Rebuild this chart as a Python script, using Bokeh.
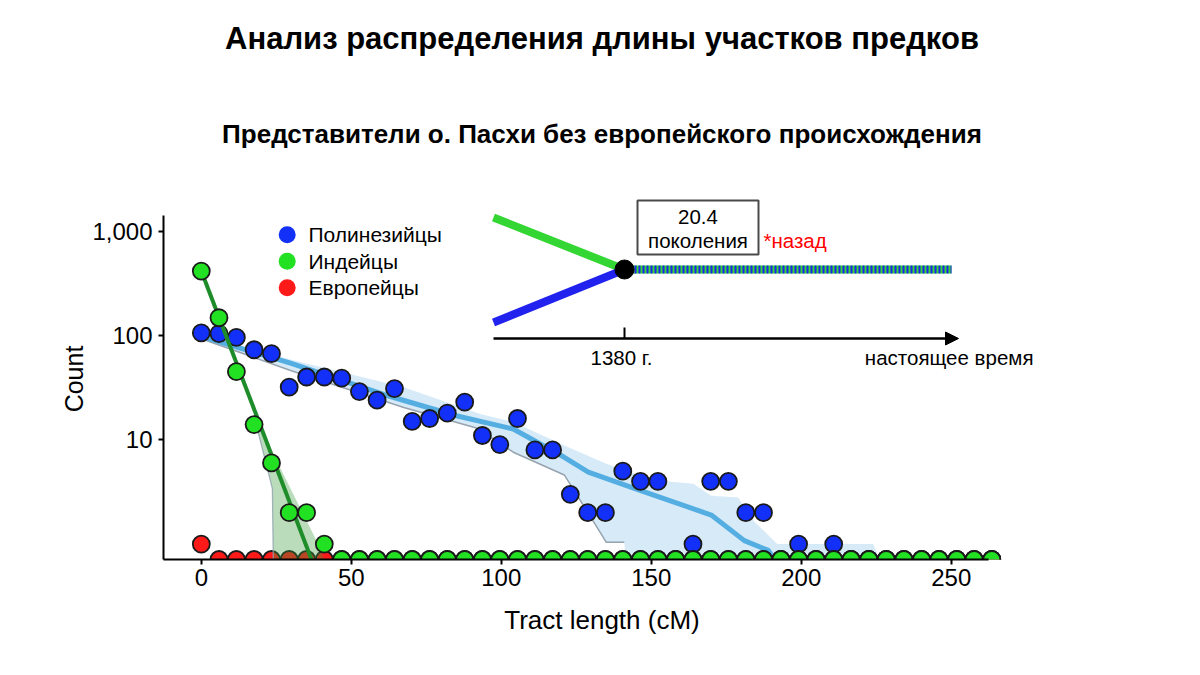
from bokeh.plotting import figure
from bokeh.models import (Range1d, FixedTicker, NumeralTickFormatter, Label, Title,
                          BoxAnnotation, Arrow, NormalHead, LinearScale)
from bokeh.embed import file_html
from bokeh.resources import INLINE

# ---------------- data ----------------
tract_length = [0.0, 5.9, 11.7, 17.6, 23.4, 29.3, 35.1, 41.0, 46.8, 52.7,
                58.6, 64.4, 70.3, 76.1, 82.0, 87.8, 93.7, 99.5, 105.4, 111.2,
                117.1, 123.0, 128.8, 134.7, 140.5, 146.4, 152.2, 158.1, 163.9, 169.8,
                175.7, 181.5, 187.4, 193.2, 199.1, 204.9, 210.8, 216.6, 222.5, 228.3,
                234.2, 240.1, 245.9, 251.8, 257.6, 263.5]
polynesian = [106, 104, 96, 73, 67, 32, 40, 40, 39, 29,
              24, 31, 15, 16, 18, 23, 11, 9, 16, 8,
              8, 3, 2, 2, 5, 4, 4, 0, 1, 4,
              4, 2, 2, 0, 1, 0, 1, 0, 0, 0,
              0, 0, 0, 0, 0, 0]
native_american = [415, 148, 45, 14, 6, 2, 2, 1, 0, 0,
                   0, 0, 0, 0, 0, 0, 0, 0, 0, 0,
                   0, 0, 0, 0, 0, 0, 0, 0, 0, 0,
                   0, 0, 0, 0, 0, 0, 0, 0, 0, 0,
                   0, 0, 0, 0, 0, 0]
european = [1, 0, 0, 0, 0, 0, 0, 0, 0, 0,
            0, 0, 0, 0, 0, 0, 0, 0, 0, 0,
            0, 0, 0, 0, 0, 0, 0, 0, 0, 0,
            0, 0, 0, 0, 0, 0, 0, 0, 0, 0,
            0, 0, 0, 0, 0, 0]

series_names = ["Полинезийцы", "Индейцы", "Европейцы"]

# fitted / simulated expectations (0 = down to the axis)
blue_fit_x = [0, 30, 63, 85, 104, 121, 129, 146, 170, 181, 189, 191]
blue_fit_y = [98, 54, 26, 17, 12.7, 6.8, 4.9, 3.3, 1.9, 1.08, 0.87, 0]
blue_band_upper_x = [0, 30, 67.5, 93, 104, 121, 135, 151, 164, 170, 179, 183, 192, 224, 226]
blue_band_upper = [100, 58.5, 31.9, 17.7, 14.8, 8.8, 5.9, 4.1, 3.8, 2.9, 2.8, 1.8, 1.0, 1.0, 0]
blue_band_lower_x = [0, 30, 67.5, 92, 104, 121, 131, 135, 141, 141.5, 226]
blue_band_lower = [93, 46, 20.4, 12.9, 7.6, 4.6, 1.6, 1.04, 1.04, 0, 0]

green_fit_x = [0, 37]
green_fit_y = [415, 0.68]
green_band_upper_x = [17.6, 22, 29.3, 35.1, 39.2, 41.0]
green_band_upper = [19.6, 9.5, 3.6, 1.67, 0.97, 0]
green_band_lower_x = [17.6, 18.7, 23.7, 24.0, 41.0]
green_band_lower = [19.6, 12.7, 3.4, 0, 0]

x_ticks = [0, 50, 100, 150, 200, 250]
y_ticks = [10, 100, 1000]

# ---------------- styling ----------------
FONT = "Liberation Sans"
BLUE = "#1230f8"
GREEN = "#22e022"
RED = "#ff1a1a"
EDGE = "#1a1a1a"

W, H = 1200, 675
FRAME_L, FRAME_R, FRAME_T, FRAME_B = 163, 1040, 198, 559
PX_PER_CM = 3.0
X0 = -12.6
X_AXIS_END = 262.4
DECADE_PX = 104.3
Y1000_PX = 230.7

Y_BOTTOM = 10 ** (3 - (FRAME_B - Y1000_PX) / DECADE_PX)
Y_TOP = 10 ** (3 + (Y1000_PX - FRAME_T) / DECADE_PX)
X1 = X0 + (FRAME_R - FRAME_L) / PX_PER_CM


def lift(vals):
    return [v if v > 0 else Y_BOTTOM for v in vals]


p = figure(width=W, height=H, output_backend="svg", toolbar_location=None,
           title=None, y_axis_type="log",
           x_range=Range1d(X0, X1), y_range=Range1d(Y_BOTTOM, Y_TOP),
           min_border_left=FRAME_L, min_border_right=W - FRAME_R,
           min_border_top=FRAME_T, min_border_bottom=H - FRAME_B)
p.outline_line_color = None
p.xgrid.visible = False
p.ygrid.visible = False
p.background_fill_color = "white"

# page-pixel layout coordinates for the legend and the schematic inset
p.extra_x_ranges = {"px": Range1d(FRAME_L, FRAME_R)}
p.extra_y_ranges = {"py": Range1d(FRAME_B, FRAME_T)}
p.extra_x_scales = {"px": LinearScale()}
p.extra_y_scales = {"py": LinearScale()}

# axes
for ax in (p.xaxis[0], p.yaxis[0]):
    ax.axis_line_width = 2
    ax.axis_line_color = "black"
    ax.major_tick_line_width = 2
    ax.major_tick_line_color = "black"
    ax.major_tick_out = 5
    ax.major_tick_in = 0
    ax.minor_tick_line_color = None
    ax.major_label_text_font = FONT
    ax.major_label_text_color = "black"
    ax.major_label_text_font_size = "24px"
    ax.axis_label_text_font = FONT
    ax.axis_label_text_font_style = "normal"
    ax.axis_label_text_color = "black"

p.xaxis.ticker = FixedTicker(ticks=x_ticks)
p.xaxis.axis_label = "Tract length (cM)"
p.xaxis.axis_label_text_font_size = "26px"
p.xaxis.major_label_standoff = 4
p.xaxis.axis_label_standoff = 16
p.xaxis.bounds = (X0, X_AXIS_END)

p.yaxis.ticker = FixedTicker(ticks=y_ticks, minor_ticks=[])
p.yaxis.formatter = NumeralTickFormatter(format="0,0")
p.yaxis.axis_label = "Count"
p.yaxis.axis_label_text_font_size = "25px"
p.yaxis.major_label_standoff = 6
p.yaxis.axis_label_standoff = 1
p.yaxis.bounds = (Y_BOTTOM, 10 ** 3.15)

# titles (first added sits closest to the frame)
p.add_layout(Title(text="Представители о. Пасхи без европейского происхождения",
                   align="center", text_font=FONT, text_font_size="26px",
                   text_font_style="bold", text_color="black", standoff=100), "above")
p.add_layout(Title(text="Анализ распределения длины участков предков",
                   align="center", text_font=FONT, text_font_size="31px",
                   text_font_style="bold", text_color="black", standoff=22), "above")

# blue band + line + points
p.patch(blue_band_upper_x + blue_band_lower_x[::-1],
        lift(blue_band_upper) + lift(blue_band_lower)[::-1],
        fill_color="#8cc4ec", fill_alpha=0.35, line_color=None)
p.line(blue_band_lower_x[:-2], lift(blue_band_lower[:-2]), line_color="#8d9aa6",
       line_width=1.5, line_alpha=0.9)
p.line(blue_fit_x, lift(blue_fit_y), line_color="#55aee2", line_width=5)
p.scatter(tract_length, lift(polynesian), size=17, fill_color=BLUE,
          line_color=EDGE, line_width=1.8)

# red points
p.scatter(tract_length, lift(european), size=17, fill_color=RED,
          line_color=EDGE, line_width=1.8)

# green band + line + points
p.patch(green_band_upper_x + green_band_lower_x[::-1],
        lift(green_band_upper) + lift(green_band_lower)[::-1],
        fill_color="#3a9a3a", fill_alpha=0.35, line_color=None)
p.line(green_band_lower_x[:-1], lift(green_band_lower[:-1]), line_color="#8fa3b0",
       line_width=1.3, line_alpha=0.8)
p.line(green_fit_x, lift(green_fit_y), line_color="#1f8c2a", line_width=4)
p.scatter(tract_length, lift(native_american), size=17, fill_color=GREEN,
          line_color=EDGE, line_width=1.8)

# ---------------- legend & inset schematic ----------------
KW = dict(x_range_name="px", y_range_name="py")
LEG_X, LEG_TEXT_X, LEG_Y0, LEG_STEP = 286.7, 308, 234.3, 26.5
for i, (name, col) in enumerate(zip(series_names, (BLUE, GREEN, RED))):
    yy = LEG_Y0 + i * LEG_STEP
    p.scatter(x=[LEG_X], y=[yy], size=17, fill_color=col, line_color=None, **KW)
    p.add_layout(Label(x=LEG_TEXT_X, y=yy, text=name, text_align="left",
                       text_baseline="middle", text_font=FONT, text_font_size="21px",
                       text_color="black", **KW))

IGREEN, IBLUE = "#33d633", "#2222ee"
p.segment(x0=[493], y0=[217], x1=[624], y1=[269], line_color=IGREEN, line_width=8, **KW)
p.segment(x0=[493], y0=[322], x1=[624], y1=[269], line_color=IBLUE, line_width=8, **KW)
p.segment(x0=[626], y0=[269], x1=[951], y1=[269], line_color=IGREEN, line_width=8, **KW)
p.segment(x0=[626], y0=[269], x1=[951], y1=[269], line_color=IBLUE, line_width=8,
          line_dash="2 2", **KW)
p.scatter(x=[624], y=[269], size=19, fill_color="black", line_color="black", **KW)
p.segment(x0=[624], y0=[327], x1=[624], y1=[338], line_color="black", line_width=2, **KW)
p.add_layout(Arrow(end=NormalHead(size=13, fill_color="black", line_color="black"),
                   x_start=493, y_start=338, x_end=958, y_end=338,
                   line_color="black", line_width=2.5, **KW))
p.add_layout(BoxAnnotation(left=637, right=758, top=200, bottom=254,
                           fill_alpha=0, line_color="#4a4a4a", line_alpha=1,
                           line_width=2, **KW))
for txt, x, y, align, color in [("20.4", 697.5, 216, "center", "black"),
                                ("поколения", 697.5, 240, "center", "black"),
                                ("*назад", 763, 240, "left", "#ff0000"),
                                ("1380 г.", 621, 357, "center", "black"),
                                ("настоящее время", 1033, 357, "right", "black")]:
    p.add_layout(Label(x=x, y=y, text=txt, text_align=align, text_baseline="middle",
                       text_font=FONT, text_font_size="20.5px", text_color=color, **KW))

open("out.html", "w").write(file_html(p, INLINE))
